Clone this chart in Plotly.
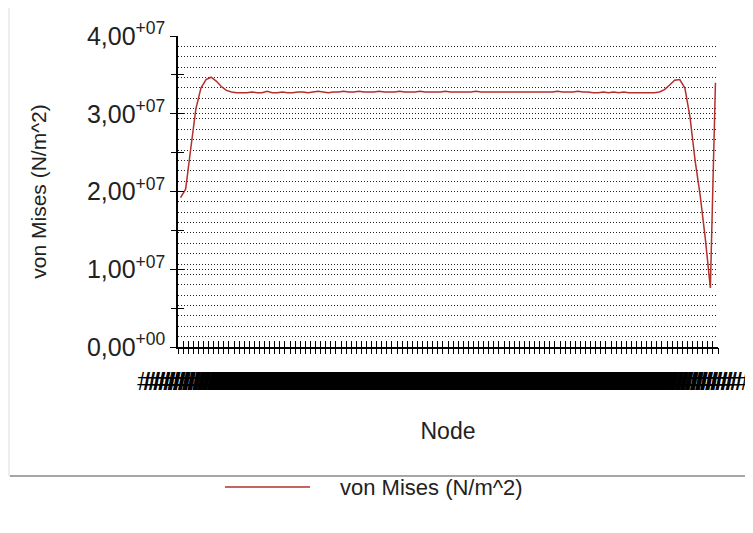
import plotly.graph_objects as go

# ---- data ----
von_mises = [
    19.2e6, 20.3e6, 25.5e6, 30.6e6, 33.3e6, 34.4e6, 34.7e6, 34.2e6, 33.5e6, 33.0e6,
    32.8e6, 32.7e6, 32.7e6, 32.7e6, 32.8e6, 32.7e6, 32.7e6, 32.9e6, 32.7e6, 32.7e6,
    32.8e6, 32.7e6, 32.7e6, 32.8e6, 32.8e6, 32.7e6, 32.8e6, 32.9e6, 32.8e6, 32.7e6,
    32.8e6, 32.8e6, 32.9e6, 32.8e6, 32.8e6, 32.9e6, 32.8e6, 32.8e6, 32.8e6, 32.9e6,
    32.8e6, 32.8e6, 32.8e6, 32.9e6, 32.8e6, 32.8e6, 32.8e6, 32.9e6, 32.8e6, 32.8e6,
    32.8e6, 32.8e6, 32.9e6, 32.8e6, 32.8e6, 32.8e6, 32.8e6, 32.8e6, 32.9e6, 32.8e6,
    32.8e6, 32.8e6, 32.8e6, 32.8e6, 32.8e6, 32.8e6, 32.8e6, 32.8e6, 32.8e6, 32.8e6,
    32.8e6, 32.8e6, 32.8e6, 32.8e6, 32.9e6, 32.8e6, 32.8e6, 32.8e6, 32.9e6, 32.8e6,
    32.8e6, 32.7e6, 32.7e6, 32.8e6, 32.7e6, 32.8e6, 32.7e6, 32.8e6, 32.7e6, 32.7e6,
    32.7e6, 32.7e6, 32.7e6, 32.7e6, 32.8e6, 33.1e6, 33.7e6, 34.3e6, 34.4e6, 33.3e6,
    29.6e6, 24.0e6, 19.5e6, 14.0e6, 7.6e6, 34.0e6,
]
node_labels = ["######"] * len(von_mises)
y_tick_values = [0, 1e7, 2e7, 3e7, 4e7]
y_tick_labels = ["0,00<sup>+00</sup>", "1,00<sup>+07</sup>", "2,00<sup>+07</sup>",
                 "3,00<sup>+07</sup>", "4,00<sup>+07</sup>"]
y_tick_marks = [0, 5e6, 1e7, 1.5e7, 2e7, 2.5e7, 3e7, 3.5e7, 4e7]
series_name = "von Mises (N/m^2)"

n = len(von_mises)
x_idx = list(range(n))
boundaries = [i - 0.5 for i in range(n + 1)]
xr = [-0.5, n - 0.5]
yr = [0, 4e7]

FONT = "Liberation Sans, Arial, sans-serif"
LINE_COLOR = "#b3302d"
TXT = "#222222"

# page body adds an 8px margin; screen px -> paper coords
def px_x(X):
    return (X - 178) / 540.0

def px_y(Y):
    return (347 - Y) / 311.0

fig = go.Figure()
fig.add_trace(go.Scatter(
    x=x_idx, y=von_mises, mode="lines", name=series_name,
    line=dict(color=LINE_COLOR, width=1.5), showlegend=False,
))
# helper traces so the overlay tick axes get drawn
for ax in ("2", "3"):
    fig.add_trace(go.Scatter(
        x=[x_idx[0]], y=[von_mises[0]], xaxis="x" + ax, yaxis="y" + ax,
        mode="markers", marker=dict(opacity=0), showlegend=False, hoverinfo="skip",
    ))

tick_common = dict(tickmode="array", ticklen=6, tickwidth=1.2, tickcolor="black",
                   showticklabels=False, showgrid=False, zeroline=False, showline=False)

fig.update_layout(
    width=745, height=525,
    margin=dict(l=170, r=35, t=28, b=186),
    paper_bgcolor="white", plot_bgcolor="white",
    font=dict(family=FONT, color=TXT),
    showlegend=False,
    xaxis=dict(
        range=xr, tickmode="array", tickvals=x_idx, ticktext=node_labels,
        tickangle=0, ticks="", showgrid=False, zeroline=False,
        showline=True, linecolor="black", linewidth=1.5,
        tickfont=dict(size=26, color="black", family=FONT),
        ticklabelstandoff=10,
        title=dict(text="Node", font=dict(size=23, family=FONT, color=TXT), standoff=28),
        automargin=False,
    ),
    xaxis2=dict(overlaying="x", anchor="y", range=xr, tickvals=boundaries,
                ticks="outside", **tick_common),
    xaxis3=dict(overlaying="x", anchor="y", range=xr, tickvals=boundaries,
                ticks="inside", **tick_common),
    yaxis=dict(
        range=yr, tickmode="array", tickvals=y_tick_values, ticktext=y_tick_labels,
        ticks="outside", ticklen=6, tickcolor="black", tickwidth=1.2,
        tickfont=dict(size=25, family=FONT, color=TXT),
        showgrid=True, gridcolor="#222222", gridwidth=1, griddash="1px,2px",
        minor=dict(showgrid=True, tick0=0, dtick=4e7 / 30, gridcolor="#222222",
                   gridwidth=1, griddash="1px,2px", ticks=""),
        zeroline=False, showline=True, linecolor="black", linewidth=1.5,
        title=dict(text=series_name, font=dict(size=21, family=FONT, color=TXT), standoff=35),
        automargin=False,
    ),
    yaxis2=dict(overlaying="y", anchor="x", side="left", range=yr, tickvals=y_tick_marks,
                ticks="inside", **tick_common),
    yaxis3=dict(overlaying="y", anchor="x", side="left", range=yr, tickvals=y_tick_marks,
                ticks="outside", **tick_common),
)

# chart-area frame
fig.add_shape(type="rect", xref="paper", yref="paper",
              x0=px_x(9), x1=px_x(770), y0=px_y(476), y1=px_y(4),
              line=dict(color="#dcdcdc", width=1), layer="below")
fig.add_shape(type="line", xref="paper", yref="paper",
              x0=px_x(10), x1=px_x(770), y0=px_y(476), y1=px_y(476),
              line=dict(color="#a6a6a6", width=2))

# legend (drawn as a line sample plus its label)
fig.add_shape(type="line", xref="paper", yref="paper",
              x0=px_x(225), x1=px_x(310), y0=px_y(487), y1=px_y(487),
              line=dict(color=LINE_COLOR, width=1.5))
fig.add_annotation(xref="paper", yref="paper", x=px_x(338), y=px_y(487),
                   xanchor="left", yanchor="middle", showarrow=False,
                   text=series_name, font=dict(size=22, family=FONT, color=TXT))

fig.write_html("out.html")
